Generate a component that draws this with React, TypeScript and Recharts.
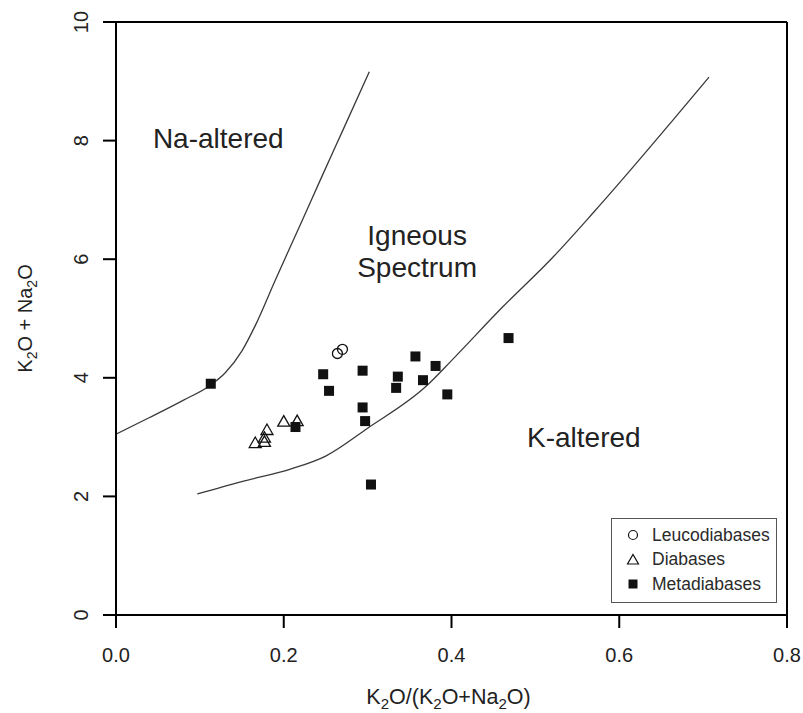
import { ComposedChart, Legend, Line, ReferenceLine, Scatter, XAxis, YAxis } from "recharts";

const FONT = "'Liberation Sans', Arial, sans-serif";
const INK = "#222";

// boundary curves of the igneous spectrum
const naBoundary = [
  { x: 0, y: 3.05 }, { x: 0.04, y: 3.33 }, { x: 0.08, y: 3.62 }, { x: 0.113, y: 3.88 },
  { x: 0.13, y: 4.08 }, { x: 0.15, y: 4.45 }, { x: 0.166, y: 4.88 }, { x: 0.19, y: 5.65 },
  { x: 0.22, y: 6.59 }, { x: 0.245, y: 7.38 }, { x: 0.27, y: 8.16 }, { x: 0.302, y: 9.16 },
];
const kBoundary = [
  { x: 0.097, y: 2.04 }, { x: 0.15, y: 2.25 }, { x: 0.208, y: 2.46 }, { x: 0.25, y: 2.68 },
  { x: 0.3, y: 3.15 }, { x: 0.37, y: 3.86 }, { x: 0.4, y: 4.29 }, { x: 0.46, y: 5.18 },
  { x: 0.52, y: 6.02 }, { x: 0.57, y: 6.8 }, { x: 0.707, y: 9.07 },
];

const leucodiabases = [
  { x: 0.264, y: 4.41 }, { x: 0.27, y: 4.48 },
];
const diabases = [
  { x: 0.166, y: 2.9 }, { x: 0.177, y: 2.92 }, { x: 0.177, y: 2.99 },
  { x: 0.18, y: 3.12 }, { x: 0.2, y: 3.26 }, { x: 0.216, y: 3.27 },
];
const metadiabases = [
  { x: 0.113, y: 3.9 }, { x: 0.214, y: 3.17 }, { x: 0.247, y: 4.06 }, { x: 0.254, y: 3.78 },
  { x: 0.294, y: 4.12 }, { x: 0.294, y: 3.5 }, { x: 0.297, y: 3.27 }, { x: 0.304, y: 2.2 },
  { x: 0.336, y: 4.02 }, { x: 0.334, y: 3.83 }, { x: 0.357, y: 4.36 }, { x: 0.381, y: 4.2 },
  { x: 0.366, y: 3.96 }, { x: 0.395, y: 3.72 }, { x: 0.468, y: 4.67 },
];

const fieldLabels = [
  { x: 0.044, y: 7.88, text: "Na-altered", anchor: "start" },
  { x: 0.359, y: 6.24, text: "Igneous", anchor: "middle" },
  { x: 0.359, y: 5.7, text: "Spectrum", anchor: "middle" },
  { x: 0.49, y: 2.83, text: "K-altered", anchor: "start" },
];

const xTicks = [0, 0.2, 0.4, 0.6, 0.8];
const yTicks = [0, 2, 4, 6, 8, 10];
const legendItems = ["Leucodiabases", "Diabases", "Metadiabases"];

// [text, subscript?]
const xTitleParts: [string, boolean][] = [["K", false], ["2", true], ["O/(K", false], ["2", true], ["O+Na", false], ["2", true], ["O)", false]];
const yTitleParts: [string, boolean][] = [["K", false], ["2", true], ["O + Na", false], ["2", true], ["O", false]];

const Circle = ({ cx, cy }: any) => <circle cx={cx} cy={cy} r={5} fill="none" stroke="#111" strokeWidth={1.3} />;
const Triangle = ({ cx, cy }: any) => (
  <path d={`M${cx - 6},${cy + 4.5} L${cx + 6},${cy + 4.5} L${cx},${cy - 6} Z`} fill="none" stroke="#111" strokeWidth={1.3} />
);
const Square = ({ cx, cy }: any) => <rect x={cx - 5} y={cy - 5} width={10} height={10} fill="#111" />;
const FieldText = ({ cx, cy, payload }: any) => (
  <text x={cx} y={cy} textAnchor={payload.anchor} fontSize={28} fontFamily={FONT} fill={INK}>
    {payload.text}
  </text>
);

const XTick = ({ x, y, payload }: any) => (
  <text x={x} y={y} dy="0.71em" textAnchor="middle" fontSize={20} fontFamily={FONT} fill={INK}>
    {payload.value.toFixed(1)}
  </text>
);
const YTick = ({ x, y, payload }: any) => (
  <text x={x} y={y} transform={`rotate(-90, ${x}, ${y})`} textAnchor="middle" fontSize={20} fontFamily={FONT} fill={INK}>
    {payload.value}
  </text>
);

function subParts(parts: [string, boolean][], size: number) {
  let prevSub = false;
  const shift = Math.round(size * 0.25);
  return parts.map(([t, sub], i) => {
    const dy = sub && !prevSub ? shift : !sub && prevSub ? -shift : 0;
    prevSub = sub;
    return (
      <tspan key={i} dy={dy} fontSize={sub ? size * 0.7 : size}>
        {t}
      </tspan>
    );
  });
}

const XTitle = ({ viewBox }: any) => (
  <text x={viewBox.x + viewBox.width / 2 - 3} y={viewBox.y + 89} textAnchor="middle" fontFamily={FONT} fill={INK}>
    {subParts(xTitleParts, 21.5)}
  </text>
);
const YTitle = ({ viewBox }: any) => {
  const x = 32;
  const y = viewBox.y + viewBox.height / 2;
  return (
    <text x={x} y={y} transform={`rotate(-90, ${x}, ${y})`} textAnchor="middle" fontFamily={FONT} fill={INK}>
      {subParts(yTitleParts, 20)}
    </text>
  );
};

const legendSymbols = [
  <circle cx={7} cy={7} r={4.5} fill="none" stroke="#111" strokeWidth={1.2} />,
  <path d="M1.5,11 L12.5,11 L7,1.5 Z" fill="none" stroke="#111" strokeWidth={1.2} />,
  <rect x={2.5} y={2.5} width={9} height={9} fill="#111" />,
];

const LegendBox = () => (
  <div style={{ width: 164, height: 79, border: "1px solid #555", background: "#fff", boxSizing: "content-box", paddingTop: 4 }}>
    {legendItems.map((name, i) => (
      <div key={name} style={{ display: "flex", alignItems: "center", height: 24.5, fontFamily: FONT, fontSize: 17.5, color: "#2a2a2a" }}>
        <svg width={14} height={14} style={{ marginLeft: 14, marginRight: 12 }}>{legendSymbols[i]}</svg>
        {name}
      </div>
    ))}
  </div>
);

export default function App() {
  return (
    <div style={{ position: "absolute", left: 0, top: 0, width: 803, height: 713, background: "#fff" }}>
      <ComposedChart width={803} height={713} margin={{ top: 22, right: 16, bottom: 0, left: 0 }}>
        <XAxis
          type="number"
          dataKey="x"
          domain={[0, 0.8]}
          ticks={xTicks}
          height={98}
          tickSize={13}
          tickMargin={20}
          tick={<XTick />}
          axisLine={{ stroke: "#000", strokeWidth: 2 }}
          tickLine={{ stroke: "#000", strokeWidth: 2 }}
          label={<XTitle />}
          allowDataOverflow
        />
        <YAxis
          type="number"
          dataKey="y"
          domain={[0, 10]}
          ticks={yTicks}
          width={116}
          tickSize={13}
          tickMargin={15}
          tick={<YTick />}
          axisLine={{ stroke: "#000", strokeWidth: 2 }}
          tickLine={{ stroke: "#000", strokeWidth: 2 }}
          label={<YTitle />}
          allowDataOverflow
        />
        <ReferenceLine y={10} stroke="#000" strokeWidth={2} />
        <ReferenceLine x={0.8} stroke="#000" strokeWidth={2} />
        <Line data={naBoundary} dataKey="y" type="monotone" stroke="#3a3a3a" strokeWidth={1.3} dot={false} activeDot={false} isAnimationActive={false} legendType="none" />
        <Line data={kBoundary} dataKey="y" type="monotone" stroke="#3a3a3a" strokeWidth={1.3} dot={false} activeDot={false} isAnimationActive={false} legendType="none" />
        <Scatter data={fieldLabels} dataKey="y" shape={<FieldText />} isAnimationActive={false} legendType="none" />
        <Scatter name="Leucodiabases" data={leucodiabases} dataKey="y" shape={<Circle />} isAnimationActive={false} />
        <Scatter name="Diabases" data={diabases} dataKey="y" shape={<Triangle />} isAnimationActive={false} />
        <Scatter name="Metadiabases" data={metadiabases} dataKey="y" shape={<Square />} isAnimationActive={false} />
        <Legend
          layout="horizontal"
          verticalAlign="middle"
          align="center"
          content={<LegendBox />}
          wrapperStyle={{ position: "absolute", left: 611, top: 518, width: 166, height: 85 }}
        />
      </ComposedChart>
    </div>
  );
}
